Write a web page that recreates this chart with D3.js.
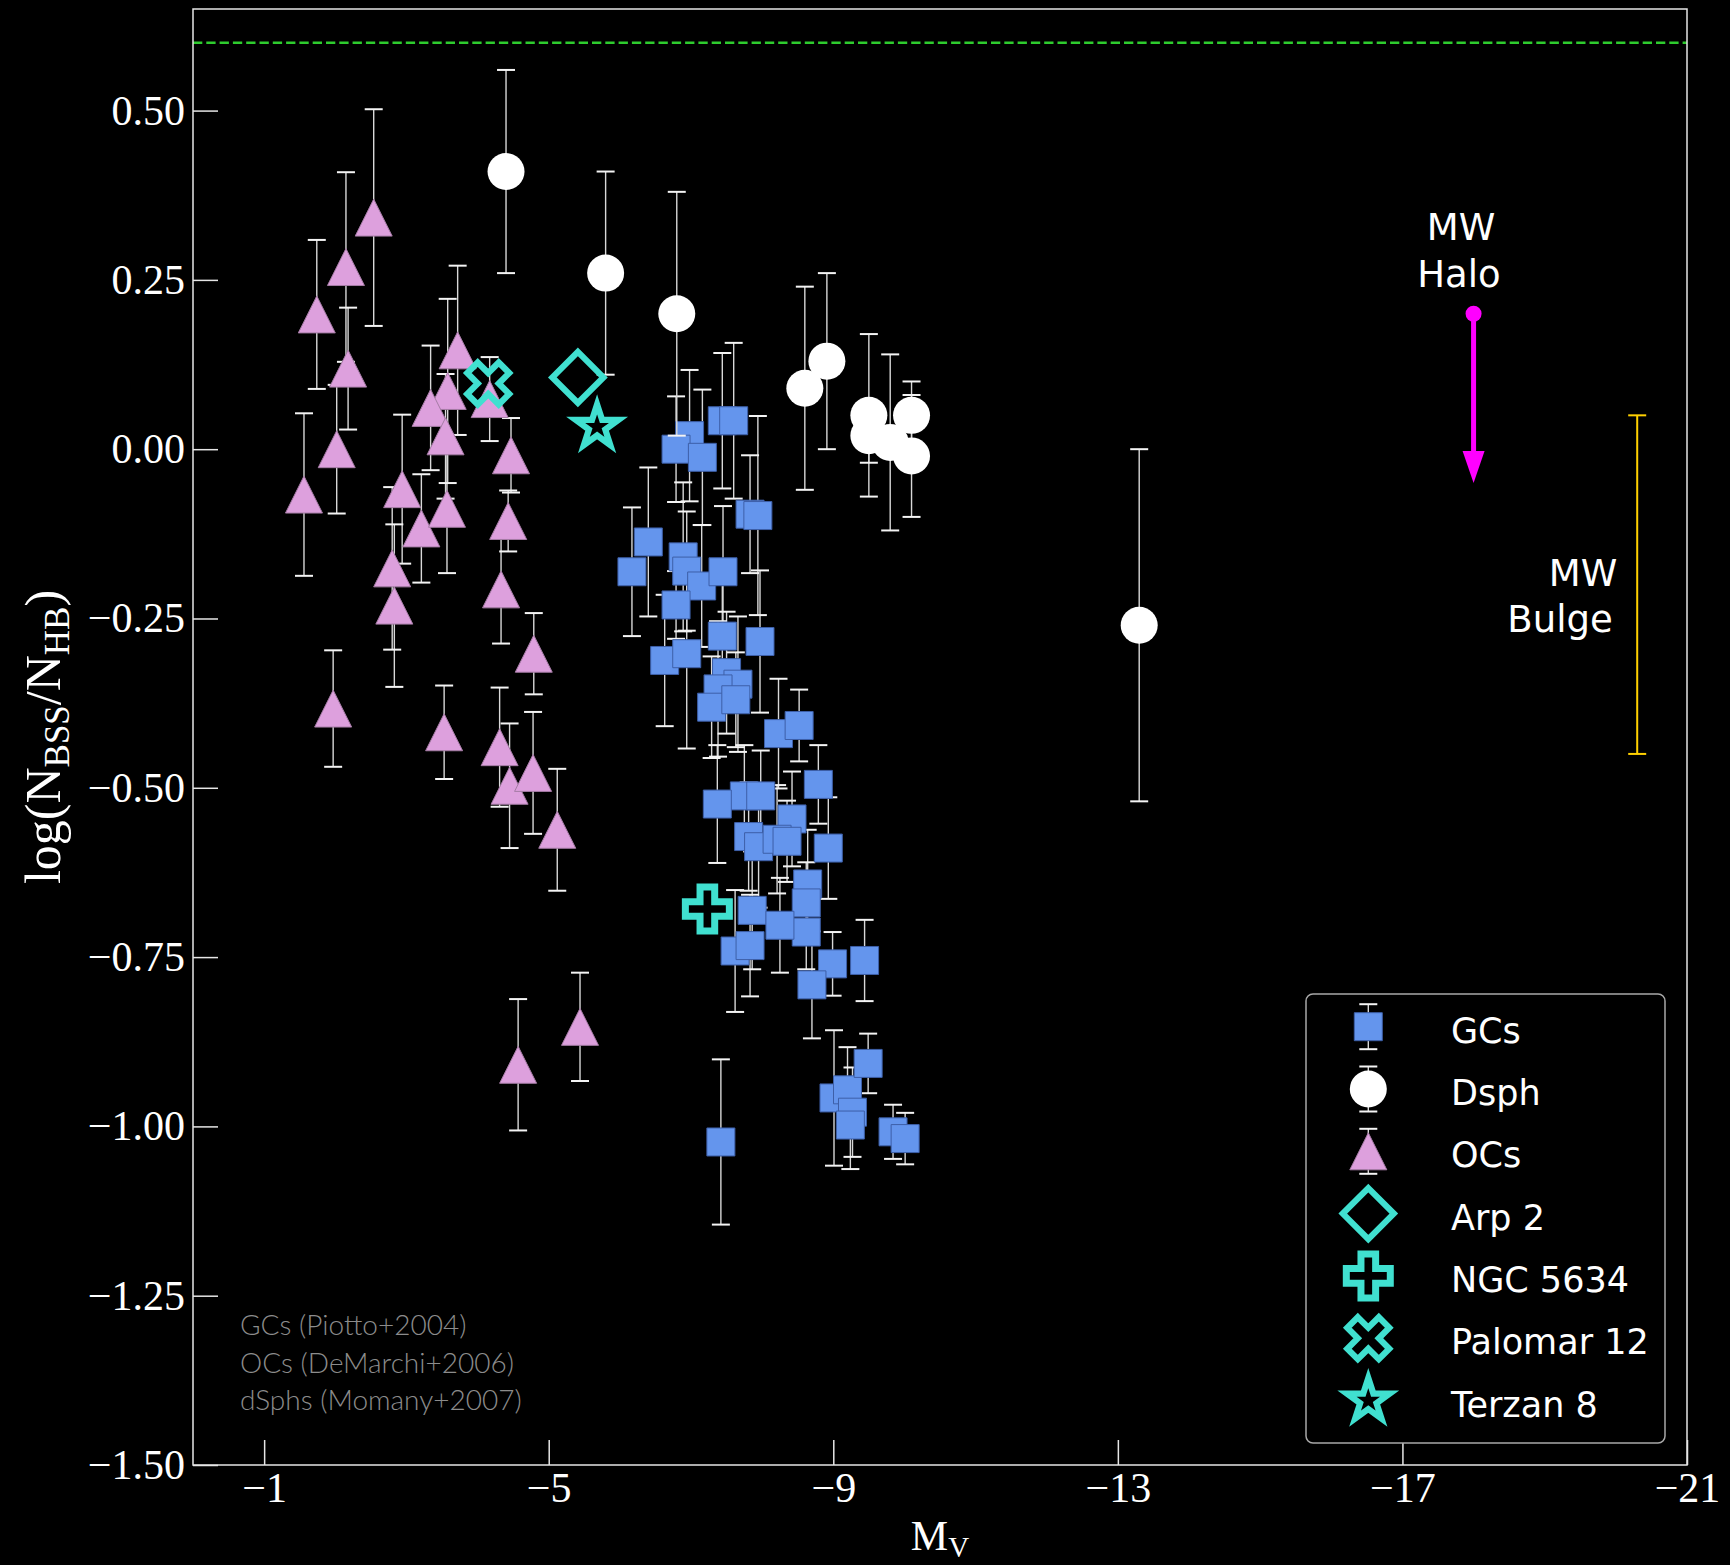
<!DOCTYPE html>
<html>
<head>
<meta charset="utf-8">
<script src="https://cdn.jsdelivr.net/npm/d3@7"></script>
<style>
  html, body { margin: 0; padding: 0; background: #000; }
  svg { display: block; }
</style>
</head>
<body>
<svg id="chart" width="1730" height="1565"></svg>
<script>
// ---- Globular clusters (Piotto+2004): absolute magnitude, log(N_BSS/N_HB), error
const gcMv = [-7.44, -7.60, -6.98, -6.79, -7.16, -6.89, -6.94, -7.15, -7.45, -6.40,
              -6.17, -6.63, -6.79, -6.94, -7.83, -7.94, -7.97, -7.44, -7.50, -7.66,
              -7.38, -7.29, -7.63, -8.23, -8.52, -8.79, -7.75, -7.98, -7.37, -8.42,
              -7.81, -7.95, -8.21, -8.35, -8.93, -8.64, -8.62, -8.62, -7.86, -8.25,
              -7.62, -7.83, -8.99, -8.70, -9.44, -7.42, -9.01, -9.20, -9.27, -9.24,
              -9.49, -9.84, -10.01];
const gcLog = [0.042, 0.042, 0.020, 0.000, -0.012, -0.159, -0.180, -0.202, -0.181, -0.137,
               -0.181, -0.312, -0.230, -0.302, -0.096, -0.098, -0.284, -0.276, -0.330, -0.347,
               -0.354, -0.381, -0.370, -0.420, -0.408, -0.495, -0.512, -0.512, -0.524, -0.546,
               -0.572, -0.587, -0.576, -0.579, -0.589, -0.642, -0.670, -0.713, -0.681, -0.703,
               -0.741, -0.733, -0.760, -0.791, -0.755, -1.023, -0.958, -0.946, -0.979, -0.998,
               -0.907, -1.008, -1.018];
const gcErr = [0.100, 0.115, 0.097, 0.078, 0.100, 0.110, 0.088, 0.090, 0.097, 0.110,
               0.095, 0.097, 0.050, 0.140, 0.087, 0.147, 0.105, 0.100, 0.090, 0.100,
               0.100, 0.075, 0.070, 0.081, 0.053, 0.058, 0.075, 0.067, 0.087, 0.070,
               0.080, 0.090, 0.080, 0.060, 0.075, 0.080, 0.060, 0.055, 0.087, 0.070,
               0.090, 0.075, 0.047, 0.079, 0.060, 0.122, 0.100, 0.063, 0.066, 0.065,
               0.044, 0.040, 0.038];

// ---- Dwarf spheroidals (Momany+2007)
const dsphMv  = [-4.40, -5.80, -6.80, -8.60, -8.91, -9.50, -9.50, -9.80, -10.10, -10.10, -13.30];
const dsphLog = [0.41, 0.26, 0.20, 0.09, 0.13, 0.05, 0.02, 0.01, 0.05, -0.01, -0.26];
const dsphErr = [0.15, 0.15, 0.18, 0.15, 0.13, 0.12, 0.04, 0.13, 0.05, 0.09, 0.26];

// ---- Open clusters (DeMarchi+2006)
const ocMv  = [-2.54, -2.15, -1.74, -2.18, -2.02, -1.56, -2.94, -3.21, -2.80, -2.83,
               -3.57, -3.72, -3.58, -3.34, -3.55, -4.17, -4.47, -4.43, -4.33, -4.79,
               -1.97, -3.53, -4.31, -4.45, -4.78, -5.12, -4.57, -5.44];
const ocLog = [0.342, 0.269, 0.199, 0.119, 0.000, -0.067, -0.059, -0.117, -0.176, -0.231,
               -0.088, 0.146, 0.086, 0.061, 0.019, 0.074, -0.009, -0.106, -0.207, -0.302,
               -0.383, -0.418, -0.440, -0.497, -0.478, -0.562, -0.909, -0.853];
const ocErr = [0.160, 0.140, 0.110, 0.090, 0.095, 0.120, 0.110, 0.080, 0.120, 0.120,
               0.095, 0.125, 0.136, 0.092, 0.092, 0.062, 0.055, 0.045, 0.080, 0.060,
               0.086, 0.069, 0.088, 0.092, 0.090, 0.090, 0.097, 0.080];

// ---- Individually highlighted clusters
const specialNames  = ["Arp 2", "NGC 5634", "Palomar 12", "Terzan 8"];
const specialShapes = ["diamond", "plus", "x", "star"];
const specialMv     = [-5.41, -7.23, -4.15, -5.68];
const specialLog    = [0.106, -0.679, 0.097, 0.033];

// ---- Milky Way reference values
const haloMv = -18.0, haloTop = 0.20, haloTip = -0.05;
const bulgeMv = -20.3, bulgeLow = -0.45, bulgeHigh = 0.05;
const referenceLevel = 0.60;

// ---- Axis ticks and legend text
const xTicks = [-1, -5, -9, -13, -17, -21];
const yTicks = [-1.50, -1.25, -1.00, -0.75, -0.50, -0.25, 0.00, 0.25, 0.50];
const legendLabels = ["GCs", "Dsph", "OCs", "Arp 2", "NGC 5634", "Palomar 12", "Terzan 8"];
const sourceNotes = ["GCs (Piotto+2004)", "OCs (DeMarchi+2006)", "dSphs (Momany+2007)"];

// ---- Styling
const COL_GC = "#6495ED", COL_OC = "#DDA0DD", COL_DSPH = "#FFFFFF";
const COL_TEAL = "#40E0D0", COL_HALO = "#FF00FF", COL_BULGE = "#FFD000";
const SERIF = "'Liberation Serif', 'DejaVu Serif', serif";
const SANS = "'DejaVu Sans', 'Noto Sans', sans-serif";

const svg = d3.select("#chart");
svg.append("rect").attr("width", 1730).attr("height", 1565).attr("fill", "#000");

const x = d3.scaleLinear().domain([0, -21]).range([193, 1687]);
const y = d3.scaleLinear().domain([-1.5, 0.65]).range([1465, 9]);

// marker shapes, centred on the origin
function markerPath(shape) {
  switch (shape) {
    case "square": return "M-14,-14H14V14H-14Z";
    case "triangle": return "M0,-18.5L18.5,18.5L-18.5,18.5Z";
    case "diamond": return "M0,-25.5L25.5,0L0,25.5L-25.5,0Z";
    case "plus": {
      const v = [[-1,-3],[-1,-1],[-3,-1],[-3,1],[-1,1],[-1,3],[1,3],[1,1],[3,1],[3,-1],[1,-1],[1,-3]];
      return "M" + v.map(p => [p[0] * 7.33, p[1] * 7.33].join(",")).join("L") + "Z";
    }
    case "x": {
      const v = [[-1,-2],[0,-1],[1,-2],[2,-1],[1,0],[2,1],[1,2],[0,1],[-1,2],[-2,1],[-1,0],[-2,-1]];
      return "M" + v.map(p => [p[0] * 10.5, p[1] * 10.5].join(",")).join("L") + "Z";
    }
    case "star": {
      const R = 22.5, r = R * 0.381966, pts = [];
      for (let i = 0; i < 10; i++) {
        const a = -Math.PI / 2 + i * Math.PI / 5;
        const rad = i % 2 === 0 ? R : r;
        pts.push([rad * Math.cos(a), rad * Math.sin(a)]);
      }
      return "M" + pts.map(p => p.join(",")).join("L") + "Z";
    }
  }
  return "";
}

// reference level
svg.append("line")
  .attr("x1", x(0)).attr("x2", x(-21))
  .attr("y1", y(referenceLevel)).attr("y2", y(referenceLevel))
  .attr("stroke", "#2ecc2e").attr("stroke-width", 2.5)
  .attr("stroke-dasharray", "9.3,4");

// error bars
function drawErrorBars(g, mv, val, err) {
  const rows = mv.map((m, i) => ({ m, v: val[i], e: err[i] }));
  const grp = g.append("g");
  grp.selectAll("line.bar").data(rows).join("line")
    .attr("x1", d => x(d.m)).attr("x2", d => x(d.m))
    .attr("y1", d => y(d.v + d.e)).attr("y2", d => y(d.v - d.e))
    .attr("stroke", "#d8d8d8").attr("stroke-width", 1.4);
  ["top", "bottom"].forEach(side => {
    grp.selectAll("line.cap-" + side).data(rows).join("line")
      .attr("x1", d => x(d.m) - 9).attr("x2", d => x(d.m) + 9)
      .attr("y1", d => y(side === "top" ? d.v + d.e : d.v - d.e))
      .attr("y2", d => y(side === "top" ? d.v + d.e : d.v - d.e))
      .attr("stroke", "#f4f4f4").attr("stroke-width", 2);
  });
}

function drawMarkers(g, mv, val, shape, fill, edge) {
  const rows = mv.map((m, i) => ({ m, v: val[i] }));
  const grp = g.append("g");
  if (shape === "circle") {
    grp.selectAll("circle").data(rows).join("circle")
      .attr("cx", d => x(d.m)).attr("cy", d => y(d.v)).attr("r", 18.5)
      .attr("fill", fill);
  } else {
    grp.selectAll("path").data(rows).join("path")
      .attr("transform", d => `translate(${x(d.m)},${y(d.v)})`)
      .attr("d", markerPath(shape))
      .attr("fill", fill).attr("stroke", edge).attr("stroke-width", 1);
  }
}

const dataLayer = svg.append("g");
const gcG = dataLayer.append("g");
drawErrorBars(gcG, gcMv, gcLog, gcErr);
drawMarkers(gcG, gcMv, gcLog, "square", COL_GC, "#3d5fa8");
const dsG = dataLayer.append("g");
drawErrorBars(dsG, dsphMv, dsphLog, dsphErr);
drawMarkers(dsG, dsphMv, dsphLog, "circle", COL_DSPH, "none");
const ocG = dataLayer.append("g");
drawErrorBars(ocG, ocMv, ocLog, ocErr);
drawMarkers(ocG, ocMv, ocLog, "triangle", COL_OC, "#a57ca5");

// highlighted clusters: open turquoise markers
dataLayer.append("g").selectAll("path")
  .data(specialNames.map((n, i) => ({ n, s: specialShapes[i], m: specialMv[i], v: specialLog[i] })))
  .join("path")
  .attr("transform", d => `translate(${x(d.m)},${y(d.v)})`)
  .attr("d", d => markerPath(d.s))
  .attr("fill", "none").attr("stroke", COL_TEAL)
  .attr("stroke-width", d => d.s === "plus" ? 7 : 6.2)
  .attr("stroke-linejoin", "miter");

// Milky Way halo: upper limit arrow
const hx = x(haloMv);
svg.append("line")
  .attr("x1", hx).attr("x2", hx)
  .attr("y1", y(haloTop)).attr("y2", y(haloTip) - 30)
  .attr("stroke", COL_HALO).attr("stroke-width", 5);
svg.append("circle").attr("cx", hx).attr("cy", y(haloTop)).attr("r", 8).attr("fill", COL_HALO);
svg.append("path")
  .attr("d", `M${hx - 11},${y(haloTip) - 32}L${hx + 11},${y(haloTip) - 32}L${hx},${y(haloTip)}Z`)
  .attr("fill", COL_HALO);
const haloText = svg.append("text").attr("font-family", SANS).attr("font-size", 37)
  .attr("fill", "#fff").attr("text-anchor", "middle");
haloText.append("tspan").attr("x", 1461).attr("y", 240).text("MW");
haloText.append("tspan").attr("x", 1459).attr("y", 287).text("Halo");

// Milky Way bulge range
const bx = x(bulgeMv);
svg.append("line").attr("x1", bx).attr("x2", bx)
  .attr("y1", y(bulgeHigh)).attr("y2", y(bulgeLow))
  .attr("stroke", COL_BULGE).attr("stroke-width", 2);
[bulgeHigh, bulgeLow].forEach(v => {
  svg.append("line").attr("x1", bx - 9).attr("x2", bx + 9)
    .attr("y1", y(v)).attr("y2", y(v))
    .attr("stroke", COL_BULGE).attr("stroke-width", 2);
});
const bulgeText = svg.append("text").attr("font-family", SANS).attr("font-size", 37)
  .attr("fill", "#fff").attr("text-anchor", "middle");
bulgeText.append("tspan").attr("x", 1583).attr("y", 586).text("MW");
bulgeText.append("tspan").attr("x", 1560).attr("y", 632).text("Bulge");

// catalogue notes
svg.append("g").selectAll("text").data(sourceNotes).join("text")
  .attr("x", 240).attr("y", (d, i) => 1335 + i * 37.5)
  .attr("font-family", "Lato, 'Open Sans', sans-serif").attr("font-weight", 300)
  .attr("font-size", 28).attr("fill", "#8c8c8c")
  .text(d => d);

// axes
const xAxis = d3.axisBottom(x).tickValues(xTicks).tickSize(-25).tickPadding(7)
  .tickFormat(d3.format("d"));
const yAxis = d3.axisLeft(y).tickValues(yTicks).tickSize(-25).tickPadding(8)
  .tickFormat(d3.format(".2f"));

const gx = svg.append("g").attr("transform", "translate(0,1465)").call(xAxis);
const gy = svg.append("g").attr("transform", "translate(193,0)").call(yAxis);
[gx, gy].forEach(g => {
  g.select(".domain").remove();
  g.selectAll(".tick line").attr("stroke", "#e6e6e6").attr("stroke-width", 1.5);
  g.selectAll(".tick text").attr("fill", "#fff").attr("font-family", SERIF).attr("font-size", 42);
});

// frame
svg.append("rect").attr("x", 193).attr("y", 9).attr("width", 1687 - 193).attr("height", 1465 - 9)
  .attr("fill", "none").attr("stroke", "#e6e6e6").attr("stroke-width", 1.5);

// axis titles
const xl = svg.append("text").attr("x", 940).attr("y", 1550).attr("text-anchor", "middle")
  .attr("font-family", SERIF).attr("font-size", 42).attr("fill", "#fff");
xl.append("tspan").text("M");
xl.append("tspan").attr("font-size", 29).attr("dy", 7).text("V");

const yl = svg.append("text")
  .attr("transform", "translate(60,737) rotate(-90)")
  .attr("text-anchor", "middle")
  .attr("font-family", SERIF).attr("font-size", 50).attr("fill", "#fff");
yl.append("tspan").text("log(N");
yl.append("tspan").attr("font-size", 35).attr("dy", 9).text("BSS");
yl.append("tspan").attr("dy", -9).text("/N");
yl.append("tspan").attr("font-size", 35).attr("dy", 9).text("HB");
yl.append("tspan").attr("dy", -9).text(")");

// legend
const lg = svg.append("g");
lg.append("rect").attr("x", 1306).attr("y", 994).attr("width", 359).attr("height", 449)
  .attr("rx", 7).attr("fill", "#000").attr("stroke", "#a8a8a8").attr("stroke-width", 1.5);
const legendShapes = ["square", "circle", "triangle", "diamond", "plus", "x", "star"];
legendLabels.forEach((label, i) => {
  const cy = 1026.7 + i * 62.3, cx = 1368.3;
  const row = lg.append("g");
  if (i < 3) {
    row.append("line").attr("x1", cx).attr("x2", cx).attr("y1", cy - 22.5).attr("y2", cy + 22.5)
      .attr("stroke", "#d8d8d8").attr("stroke-width", 1.4);
    [-22.5, 22.5].forEach(o => row.append("line").attr("x1", cx - 9).attr("x2", cx + 9)
      .attr("y1", cy + o).attr("y2", cy + o).attr("stroke", "#f4f4f4").attr("stroke-width", 2));
  }
  const s = legendShapes[i];
  if (s === "circle") {
    row.append("circle").attr("cx", cx).attr("cy", cy).attr("r", 18.5).attr("fill", COL_DSPH);
  } else if (i < 3) {
    row.append("path").attr("transform", `translate(${cx},${cy})`).attr("d", markerPath(s))
      .attr("fill", s === "square" ? COL_GC : COL_OC)
      .attr("stroke", s === "square" ? "#3d5fa8" : "#a57ca5").attr("stroke-width", 1);
  } else {
    row.append("path").attr("transform", `translate(${cx},${cy})`).attr("d", markerPath(s))
      .attr("fill", "none").attr("stroke", COL_TEAL).attr("stroke-width", s === "plus" ? 7 : 6.2);
  }
  row.append("text").attr("x", 1451).attr("y", cy + 16)
    .attr("font-family", SANS).attr("font-size", 35).attr("fill", "#fff").text(label);
});
</script>
</body>
</html>
